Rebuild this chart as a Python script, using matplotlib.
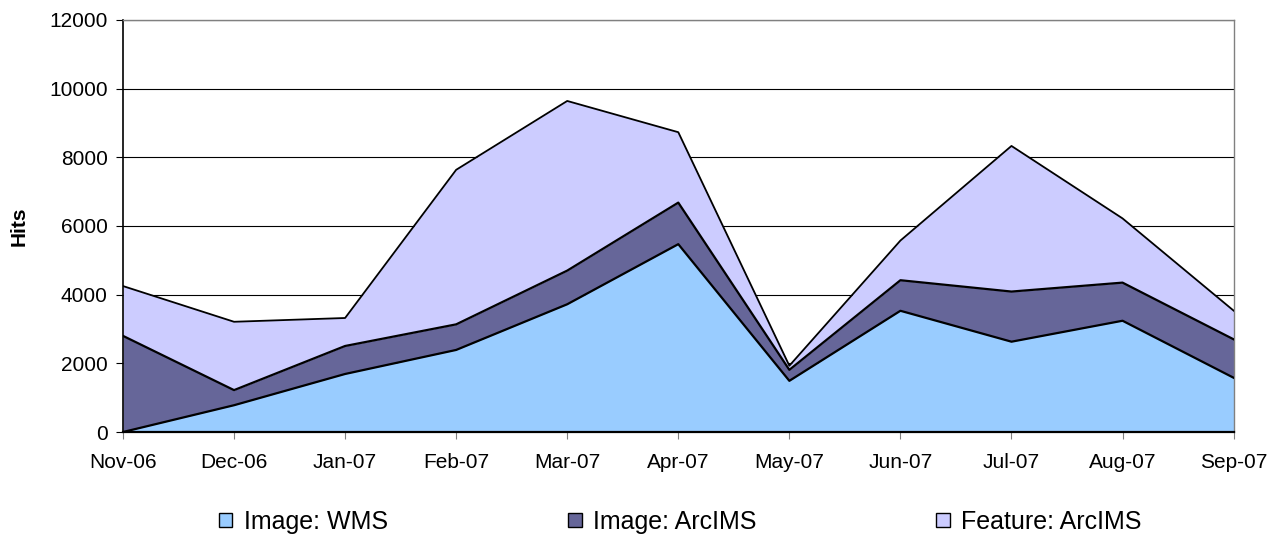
import numpy as np
import matplotlib
matplotlib.use("Agg")
import matplotlib.pyplot as plt
from matplotlib.patches import Patch

plt.rcParams['font.family'] = ['Liberation Sans', 'DejaVu Sans']

# monthly hits
months = ['Nov-06', 'Dec-06', 'Jan-07', 'Feb-07', 'Mar-07', 'Apr-07',
          'May-07', 'Jun-07', 'Jul-07', 'Aug-07', 'Sep-07']
image_wms = [0, 780, 1690, 2390, 3720, 5470, 1490, 3530, 2630, 3240, 1580]
image_arcims = [2800, 440, 815, 745, 980, 1210, 320, 890, 1460, 1110, 1120]
feature_arcims = [1450, 1990, 815, 4500, 4940, 2050, 120, 1155, 4240, 1870, 835]

names = ['Image: WMS', 'Image: ArcIMS', 'Feature: ArcIMS']
colors = ['#99CCFF', '#666699', '#CCCCFF']

fig = plt.figure(figsize=(12.81, 5.38), dpi=100)
ax = fig.add_axes([0.096, 0.197, 0.867, 0.766])

x = np.arange(len(months))
series = [image_wms, image_arcims, feature_arcims]
base = np.zeros(len(months))
for vals, col in zip(series, colors):
    top = base + np.array(vals)
    ax.fill_between(x, base, top, color=col, linewidth=0, zorder=2)
    ax.plot(x, top, color='black', linewidth=1.6 if col != '#CCCCFF' else 1.3, zorder=3)
    base = top

ax.set_xlim(0, len(months) - 1)
ax.set_ylim(0, 12000)
ax.set_yticks(range(0, 12001, 2000))
ax.set_xticks(x)
ax.set_xticklabels(months)
ax.yaxis.grid(True, color='black', linewidth=0.8, zorder=1)
ax.set_axisbelow(True)

for s in ['top', 'right']:
    ax.spines[s].set_color('#808080')
    ax.spines[s].set_linewidth(1.0)
ax.spines['left'].set_linewidth(1.2)
ax.spines['bottom'].set_linewidth(1.6)
ax.tick_params(axis='both', labelsize=15, length=5, direction='out')
ax.tick_params(axis='y', pad=6)
ax.tick_params(axis='x', pad=10, color='#808080')
ax.set_ylabel('Hits', fontsize=15, fontweight='bold', labelpad=15)

handles = [Patch(facecolor=c, edgecolor='black', linewidth=1.0) for c in colors]
fig.legend(handles, names, loc='center', bbox_to_anchor=(0.531, 0.030), ncol=3,
           frameon=False, fontsize=18, handlelength=0.55, handleheight=0.5,
           handletextpad=0.45, columnspacing=7.2, borderpad=0.1)

fig.savefig('out.png', dpi=100)
